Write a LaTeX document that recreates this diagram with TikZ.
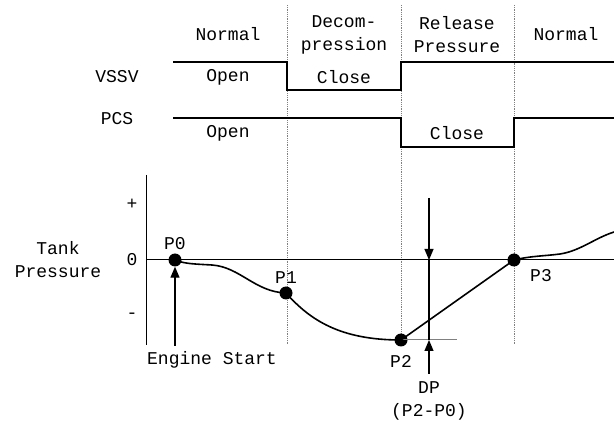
\documentclass[tikz,border=0pt]{standalone}
\usepackage{fontspec}
\setmonofont{Liberation Mono}
\usetikzlibrary{arrows.meta}
\tikzset{
  lbl/.style={font=\ttfamily\fontsize{18}{23}\selectfont, align=center, inner sep=0pt},
  sig/.style={line width=1.6pt},
  phase/.style={densely dotted, gray, line width=0.8pt},
  pt/.style={circle, fill=black, inner sep=0pt, minimum size=13pt},
  tip/.style={-{Triangle[length=11pt,width=9pt]}, line width=1.2pt}
}
\begin{document}
\begin{tikzpicture}[x=1pt, y=-1pt]
\useasboundingbox (0,0) rectangle (614,422);
  % phase boundaries
  \draw[phase] (287, 5) -- (287, 345);
  \draw[phase] (401, 5) -- (401, 345);
  \draw[phase] (514, 5) -- (514, 345);
  % phase names
  \node[lbl] (n1) at (228, 34) {Normal};
  \node[lbl] (dec) at (344, 35) {Decom-\\pression};
  \node[lbl] (rel) at (457, 35) {Release\\Pressure};
  \node[lbl] (n2) at (566, 34) {Normal};
  % valve signals
  \node[lbl] (vssv) at (117, 77) {VSSV};
  \node[lbl] (pcs) at (117, 119) {PCS};
  \draw[sig] (173, 62) -- (287, 62) -- (287, 90) -- (401, 90) -- (401, 62) -- (614, 62);
  \draw[sig] (173, 118) -- (401, 118) -- (401, 147) -- (514, 147) -- (514, 118) -- (614, 118);
  \node[lbl] (vopen) at (228, 77) {Open};
  \node[lbl] (vclose) at (344, 77) {Close};
  \node[lbl] (popen) at (228, 133) {Open};
  \node[lbl] (pclose) at (457, 133) {Close};
  % axes
  \draw[line width=1pt] (146, 175) -- (146, 345);
  \draw[line width=1pt] (146, 260) -- (614, 260);
  \node[lbl] (plus) at (132, 204) {+};
  \node[lbl] (zero) at (132, 260) {0};
  \node[lbl] (minus) at (132, 316) {-};
  \node[lbl] (tank) at (58, 260) {Tank\\Pressure};
  % pressure curve
  \node[pt] (P0) at (175, 260) {};
  \node[pt] (P1) at (286, 293) {};
  \node[pt] (P2) at (401, 340) {};
  \node[pt] (P3) at (514, 260) {};
  \coordinate (cend) at (614, 232);
  \coordinate (p2ref) at (457, 340);
  \draw[gray, line width=1pt] (P2.center) -- (p2ref);
  \draw[sig] (P0.center) .. controls (185, 264) and (195, 264) .. (212, 265)
    .. controls (240, 267) and (255, 292) .. (P1.center)
    .. controls (310, 320) and (340, 340) .. (P2.center)
    -- (P3.center)
    .. controls (530, 256) and (545, 256) .. (560, 254)
    .. controls (580, 251) and (595, 238) .. (cend);
  \node[lbl, above=3pt] (l0) at (P0.north) {P0};
  \node[lbl, above=3pt] (l1) at (P1.north) {P1};
  \node[lbl] (l2) at (401, 361) {P2};
  \node[lbl] (l3) at (541, 276) {P3};
  % engine start
  \coordinate (es) at (175, 346);
  \draw[tip] (es) -- (P0);
  \node[lbl] (estart) at (212, 360) {Engine Start};
  % pressure drop
  \coordinate (dptop) at (429, 198);
  \coordinate (dpzero) at (429, 260);
  \coordinate (dpbot) at (429, 374);
  \coordinate (dplow) at (429, 340);
  \draw[line width=1.2pt] (dpzero) -- (dplow);
  \draw[tip] (dptop) -- (dpzero);
  \draw[tip] (dpbot) -- (dplow);
  \node[lbl] (dp) at (429, 401) {DP\\(P2-P0)};
\end{tikzpicture}
\end{document}
